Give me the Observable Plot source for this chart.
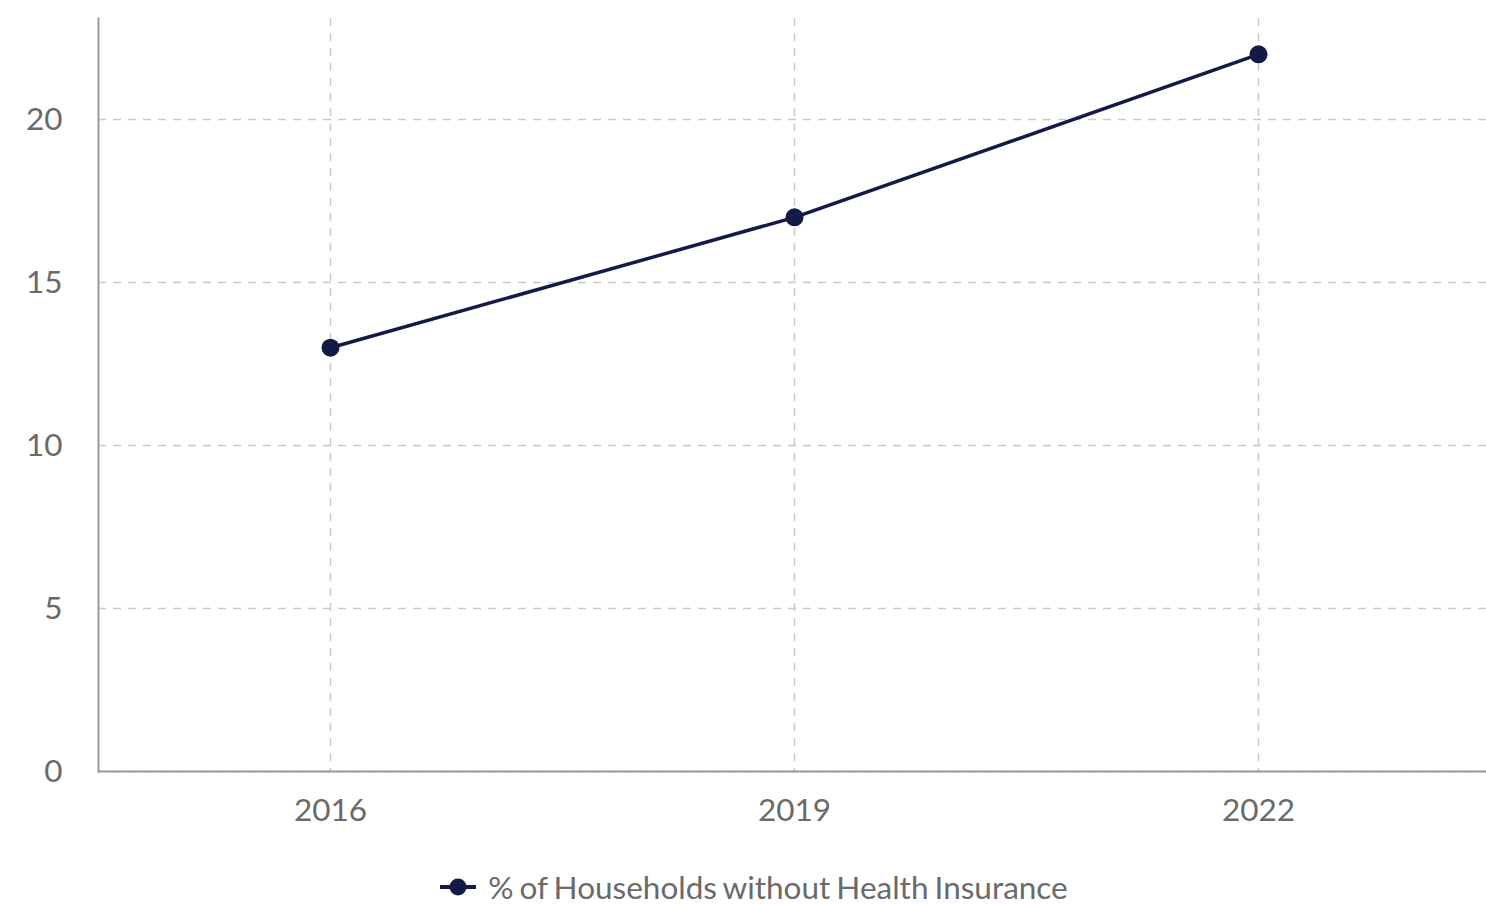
<!DOCTYPE html>
<html>
<head>
<meta charset="utf-8">
<script src="https://cdn.jsdelivr.net/npm/d3@7"></script>
<script src="https://cdn.jsdelivr.net/npm/@observablehq/plot@0.6"></script>
<style>
  html, body { margin: 0; padding: 0; background: #fff; }
  body { width: 1486px; height: 904px; overflow: hidden; font-family: Lato, "Open Sans", sans-serif; }
  #chart { width: 1486px; overflow: hidden; height: 850px; }
  #chart svg { max-width: none !important; }
  #legend { width: 1486px; display: flex; justify-content: center; align-items: center; margin-top: 20px; height: 34px; font-family: Lato, sans-serif; font-size: 31.5px; color: #6a6a6a; padding-left: 22px; box-sizing: border-box; word-spacing: -2px; }
  #legend svg { margin-right: 12px; }
</style>
</head>
<body>
<div id="chart"></div>
<div id="legend"></div>
<script>
const years = ["2016", "2019", "2022"];
const values = [13, 17, 22];
const yTicks = [0, 5, 10, 15, 20];
const seriesName = "% of Households without Health Insurance";
const lineColor = "#141a46";

const data = years.map((y, i) => ({year: y, value: values[i]}));

const chart = Plot.plot({
  width: 1490,
  height: 850,
  marginLeft: 98,
  marginRight: 0,
  marginTop: 18,
  marginBottom: 79,
  style: {fontFamily: "Lato, sans-serif", fontSize: "31.5px", color: "#6a6a6a", background: "#fff", maxWidth: "none"},
  x: {type: "point", domain: years, padding: 0.5},
  y: {domain: [0, 23.1]},
  marks: [
    Plot.gridY(yTicks, {stroke: "#cacaca", strokeOpacity: 1, strokeWidth: 1.5, strokeDasharray: "8,7"}),
    Plot.gridX(years, {stroke: "#cacaca", strokeOpacity: 1, strokeWidth: 1.5, strokeDasharray: "8,7"}),
    Plot.axisY(yTicks, {tickSize: 0, tickPadding: 36, label: null, fill: "#6a6a6a"}),
    Plot.axisX(years, {tickSize: 0, tickPadding: 27, label: null, fill: "#6a6a6a"}),
    Plot.frame({anchor: "left", stroke: "#999", strokeWidth: 2}),
    Plot.ruleY([0], {stroke: "#999", strokeWidth: 2}),
    Plot.line(data, {x: "year", y: "value", stroke: lineColor, strokeWidth: 3.5}),
    Plot.dot(data, {x: "year", y: "value", fill: lineColor, r: 9})
  ]
});
document.getElementById("chart").appendChild(chart);

const legend = document.getElementById("legend");
legend.innerHTML = `<svg width="36" height="20" viewBox="0 0 36 20"><line x1="0" y1="10" x2="36" y2="10" stroke="${lineColor}" stroke-width="4"/><circle cx="18" cy="10" r="8.5" fill="${lineColor}"/></svg><span>${seriesName}</span>`;
</script>
</body>
</html>
